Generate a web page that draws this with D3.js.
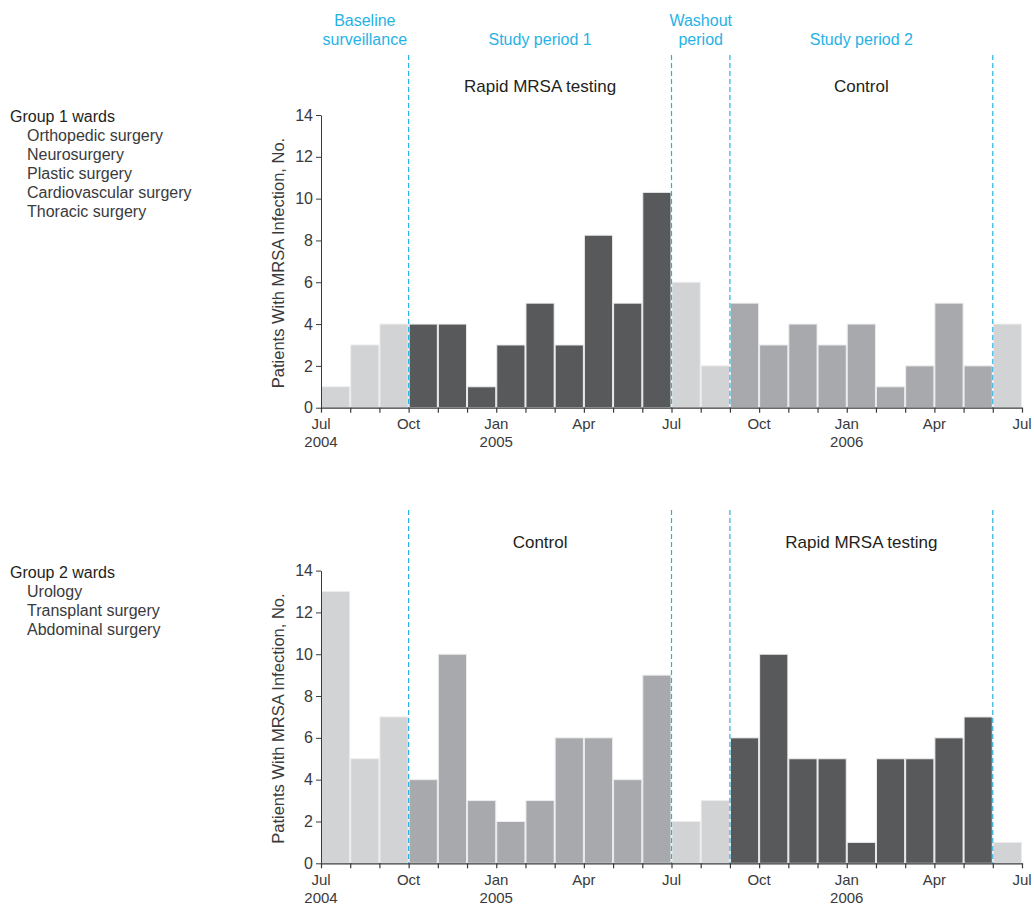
<!DOCTYPE html>
<html>
<head>
<meta charset="utf-8">
<script src="https://cdn.jsdelivr.net/npm/d3@7"></script>
<style>
  body { margin: 0; background: #fff; }
  text { font-family: "Liberation Sans", Arial, sans-serif; fill: #231f20; }
</style>
</head>
<body>
<div id="chart"></div>
<script>
// months Jul 2004 .. Jun 2006
var monthNames = ["Jul","Aug","Sep","Oct","Nov","Dec","Jan","Feb","Mar","Apr","May","Jun",
                  "Jul","Aug","Sep","Oct","Nov","Dec","Jan","Feb","Mar","Apr","May","Jun"];
var tickMonths = ["Jul","Oct","Jan","Apr","Jul","Oct","Jan","Apr","Jul"];
var tickYears  = ["2004","","2005","","","","2006","",""];
var yTicks = [0, 2, 4, 6, 8, 10, 12, 14];

var group1Values = [1, 3, 4, 4, 4, 1, 3, 5, 3, 8.25, 5, 10.3, 6, 2, 5, 3, 4, 3, 4, 1, 2, 5, 2, 4];
var group2Values = [13, 5, 7, 4, 10, 3, 2, 3, 6, 6, 4, 9, 2, 3, 6, 10, 5, 5, 1, 5, 5, 6, 7, 1];

var group1Phase = ["base","base","base",
  "rapid","rapid","rapid","rapid","rapid","rapid","rapid","rapid","rapid",
  "wash","wash",
  "ctrl","ctrl","ctrl","ctrl","ctrl","ctrl","ctrl","ctrl","ctrl",
  "post"];
var group2Phase = ["base","base","base",
  "ctrl","ctrl","ctrl","ctrl","ctrl","ctrl","ctrl","ctrl","ctrl",
  "wash","wash",
  "rapid","rapid","rapid","rapid","rapid","rapid","rapid","rapid","rapid",
  "post"];

var group1Wards = ["Orthopedic surgery", "Neurosurgery", "Plastic surgery", "Cardiovascular surgery", "Thoracic surgery"];
var group2Wards = ["Urology", "Transplant surgery", "Abdominal surgery"];

var periodLabels = [["Baseline", "surveillance"], ["Study period 1"], ["Washout", "period"], ["Study period 2"]];
var periodBounds = [0, 3, 12, 14, 23];   // month index boundaries
var dividers = [3, 12, 14, 23];
var group1Arms = ["Rapid MRSA testing", "Control"];
var group2Arms = ["Control", "Rapid MRSA testing"];

var phaseColor = {base: "#d1d3d4", wash: "#d1d3d4", post: "#d1d3d4", rapid: "#58595b", ctrl: "#a7a9ac"};
var blue = "#27b2e6";

var width = 1034, height = 905;
var svg = d3.select("#chart").append("svg")
  .attr("width", width)
  .attr("height", height);

var x = d3.scaleLinear().domain([0, 24]).range([321, 1022]);

// period headers at the very top
periodLabels.forEach(function(lines, k){
  var cx = (x(periodBounds[k]) + x(periodBounds[k+1])) / 2;
  lines.forEach(function(s, j){
    svg.append("text")
      .attr("x", cx)
      .attr("y", lines.length == 2 ? 26 + j*19 : 45)
      .attr("text-anchor", "middle")
      .style("font-size", "16px")
      .style("fill", blue)
      .text(s);
  });
});

function panel(top, values, phases, arms, groupTitle, wards, lineTop){
  var y = d3.scaleLinear().domain([0, 14]).range([top + 292.7, top]);
  var g = svg.append("g");

  // group labels on the left
  g.append("text")
    .attr("x", 10).attr("y", top + 1.7)
    .attr("dy", "0.35em")
    .style("font-size", "16px")
    .text(groupTitle);
  wards.forEach(function(w, i){
    g.append("text")
      .attr("x", 27).attr("y", top + 1.7 + (i+1)*19)
      .attr("dy", "0.35em")
      .style("font-size", "16px")
      .style("fill", "#3a3a3c")
      .text(w);
  });

  // arm labels
  arms.forEach(function(a, k){
    var cx = k == 0 ? (x(3) + x(12))/2 : (x(14) + x(23))/2;
    g.append("text")
      .attr("x", cx).attr("y", top - 23)
      .attr("text-anchor", "middle")
      .style("font-size", "17px")
      .text(a);
  });

  // bars
  g.selectAll("rect.bar")
    .data(values)
    .enter().append("rect")
    .attr("class", "bar")
    .attr("x", function(d, i){ return x(i) + 0.5; })
    .attr("width", function(d, i){ return x(i+1) - x(i) - 1; })
    .attr("y", function(d){ return y(d); })
    .attr("height", function(d){ return y(0) - y(d); })
    .style("fill", function(d, i){ return phaseColor[phases[i]]; })
    .style("stroke", "#ececec")
    .style("stroke-width", 1);

  // dashed dividers
  dividers.forEach(function(m){
    g.append("line")
      .attr("x1", x(m)).attr("x2", x(m))
      .attr("y1", lineTop).attr("y2", y(0))
      .style("stroke", blue)
      .style("stroke-width", 1.2)
      .style("stroke-dasharray", "5,3");
  });

  // y axis
  var yAxis = g.append("g")
    .attr("transform", "translate(" + x(0) + ",0)")
    .call(d3.axisLeft(y).tickValues(yTicks).tickSize(5).tickSizeOuter(0).tickPadding(3));
  yAxis.selectAll("text").style("font-size", "16px").style("fill", "#3a3a3c").style("font-family", "Liberation Sans, Arial, sans-serif");
  yAxis.selectAll("line, path").style("stroke", "#3a3a3c");

  // x axis
  var xAxis = g.append("g")
    .attr("transform", "translate(0," + y(0) + ")")
    .call(d3.axisBottom(x).tickValues(d3.range(25)).tickSize(5).tickSizeOuter(0).tickFormat(""));
  xAxis.selectAll("line, path").style("stroke", "#3a3a3c").style("stroke-width", 1.2);

  tickMonths.forEach(function(m, k){
    g.append("text")
      .attr("x", x(k*3)).attr("y", y(0) + 16)
      .attr("dy", "0.35em")
      .attr("text-anchor", "middle")
      .style("font-size", "15px")
      .style("fill", "#3a3a3c")
      .text(m);
    if (tickYears[k]) {
      g.append("text")
        .attr("x", x(k*3)).attr("y", y(0) + 34)
        .attr("dy", "0.35em")
        .attr("text-anchor", "middle")
        .style("font-size", "15px")
        .style("fill", "#3a3a3c")
        .text(tickYears[k]);
    }
  });

  // y axis title
  g.append("text")
    .attr("transform", "translate(284," + (top + 148) + ") rotate(-90)")
    .attr("text-anchor", "middle")
    .style("font-size", "16.5px")
    .style("fill", "#3a3a3c")
    .text("Patients With MRSA Infection, No.");
}

panel(115, group1Values, group1Phase, group1Arms, "Group 1 wards", group1Wards, 55);
panel(570.6, group2Values, group2Phase, group2Arms, "Group 2 wards", group2Wards, 510);
</script>
</body>
</html>
